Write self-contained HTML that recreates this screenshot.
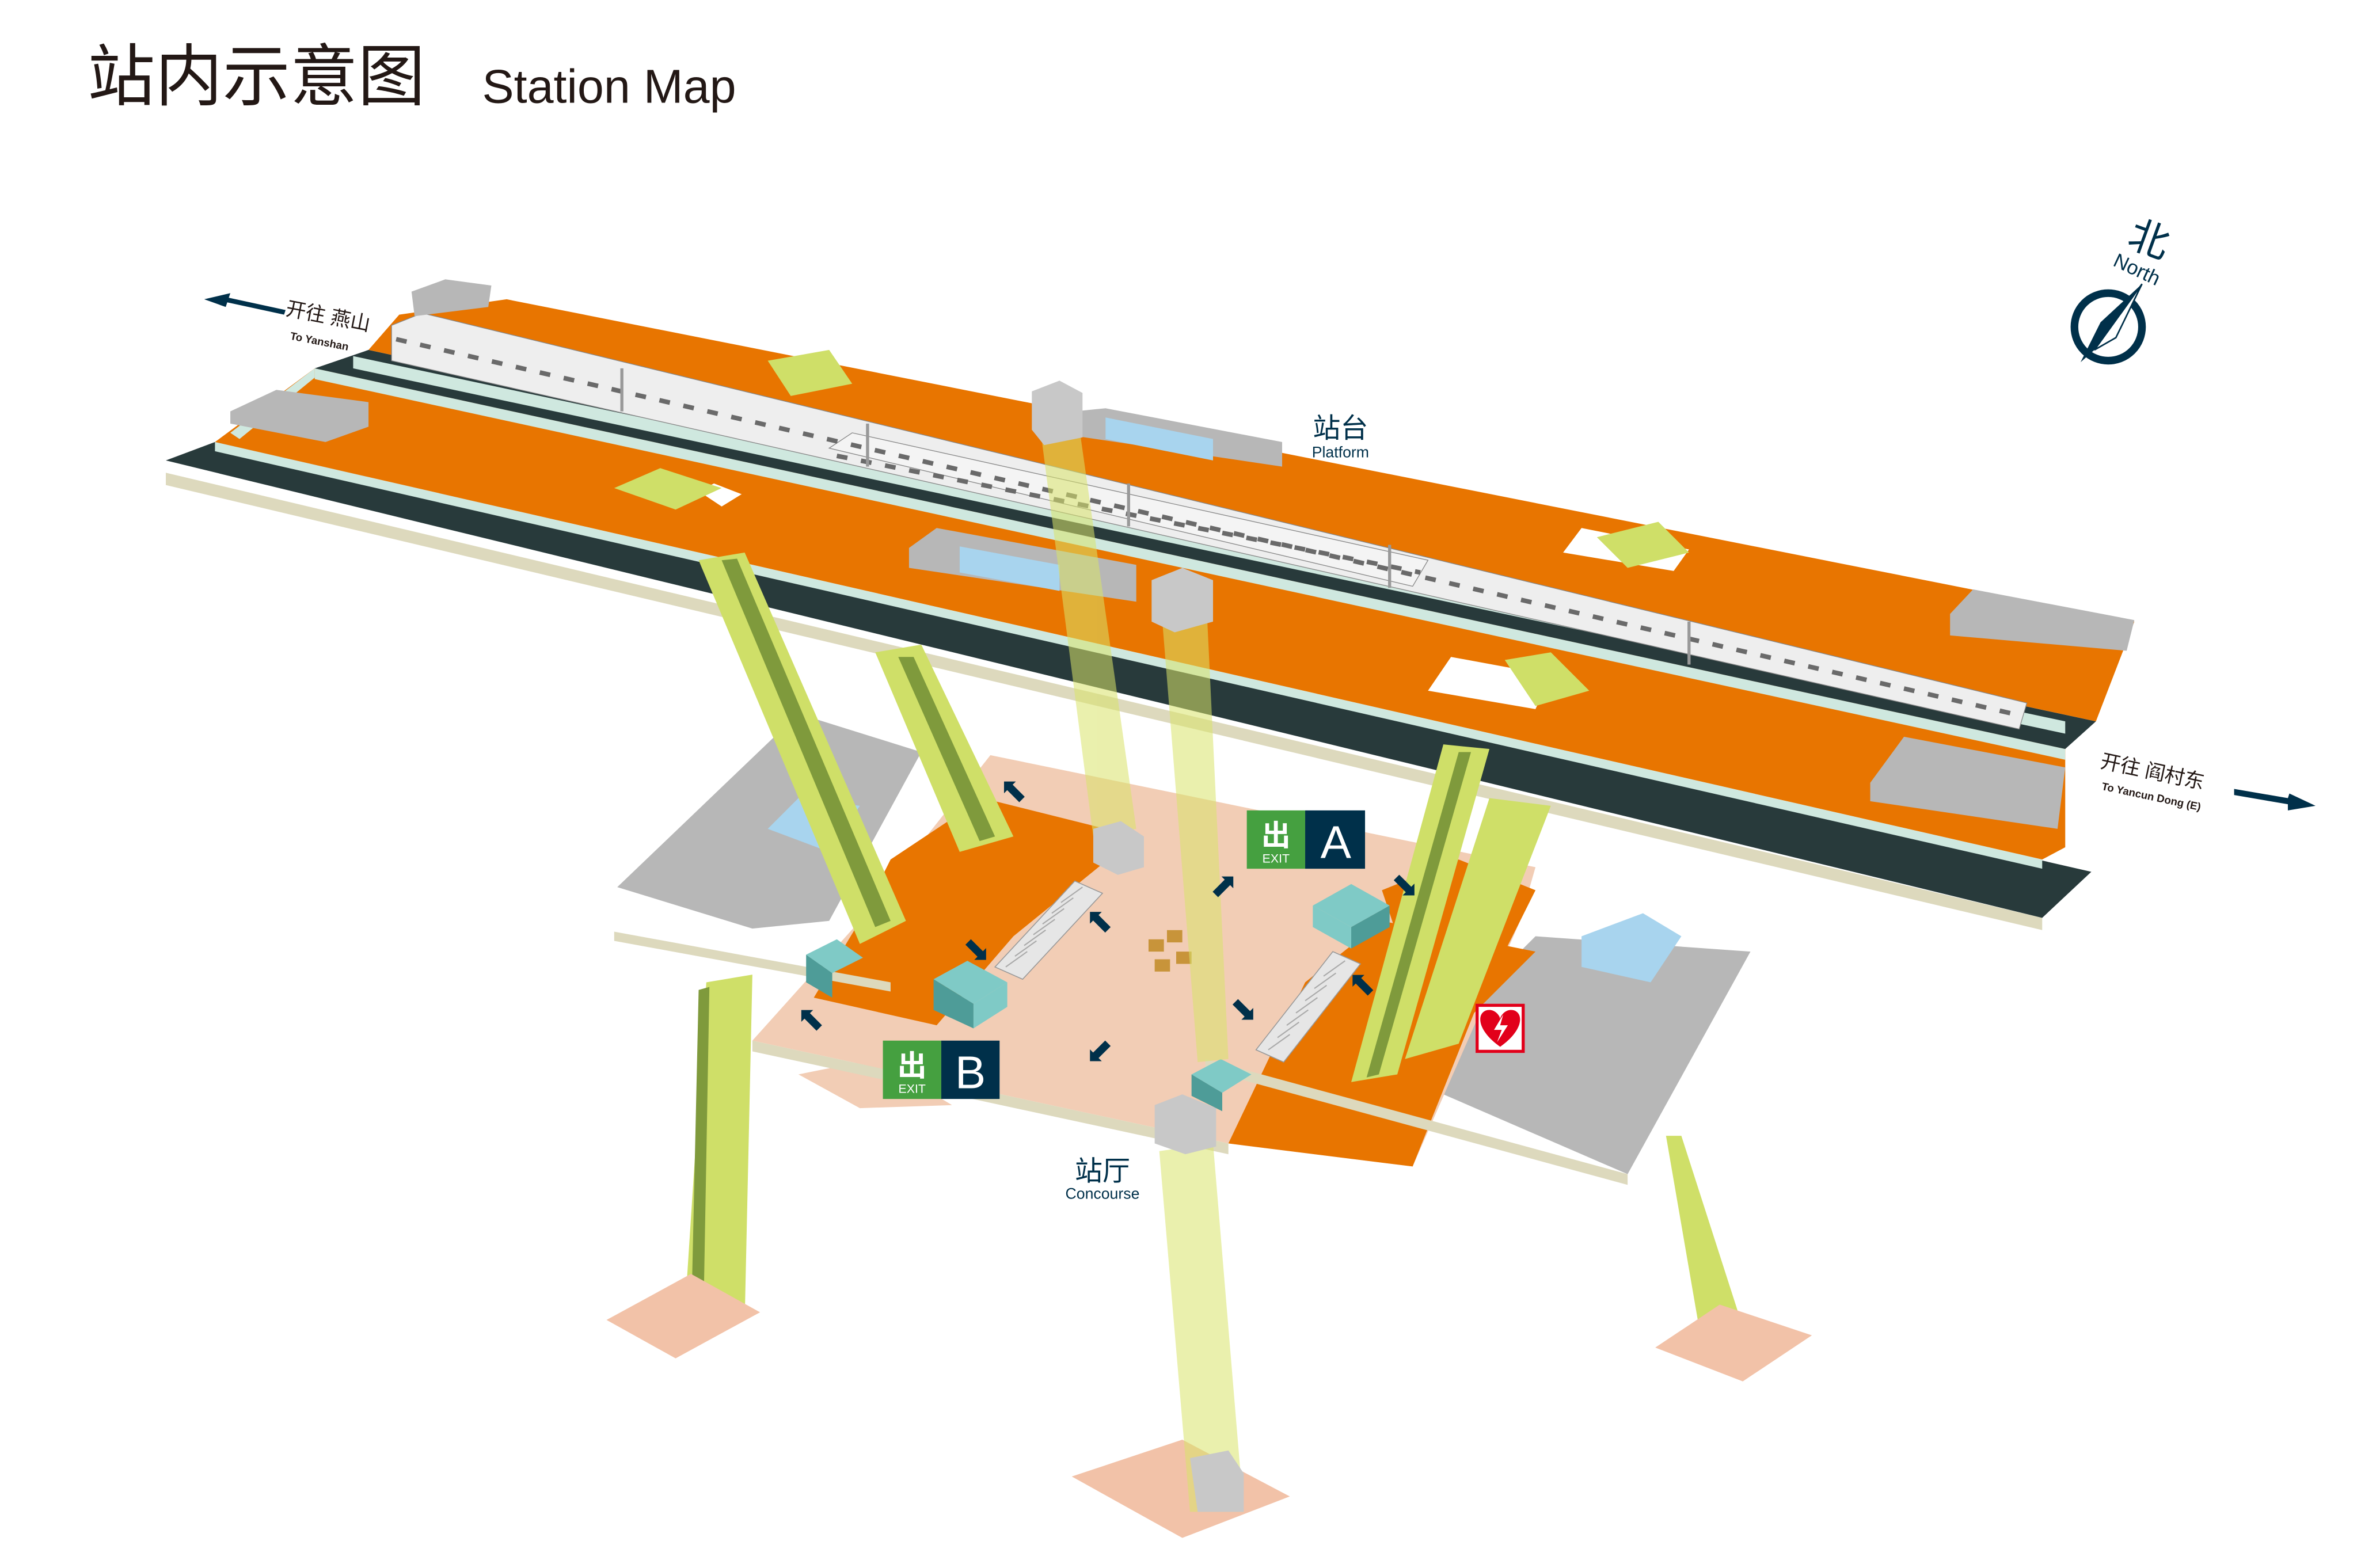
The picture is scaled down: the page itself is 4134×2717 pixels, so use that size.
<!DOCTYPE html>
<html><head><meta charset="utf-8"><style>
html,body{margin:0;padding:0;background:#fff}
svg{display:block}
</style></head><body>
<svg width="4134" height="2717" viewBox="0 0 1550 1019" preserveAspectRatio="none" xmlns="http://www.w3.org/2000/svg" font-family="'Liberation Sans','Noto Sans CJK SC',sans-serif">
<rect width="1550" height="1019" fill="#fff"/>
<text x="57" y="65" font-size="44" fill="#231815">站内示意图</text>
<text x="314" y="67" font-size="31" fill="#231815">Station Map</text>

<!-- concourse gray side areas -->
<polygon points="402,578 520,465 600,490 540,600 490,605" fill="#b7b7b7"/>
<polygon points="500,540 520,520 560,525 540,555" fill="#a8d4ee"/>
<polygon points="910,700 1000,610 1140,620 1060,765" fill="#b7b7b7"/>
<polygon points="1030,610 1070,595 1095,610 1075,640 1030,630" fill="#a8d4ee"/>
<!-- concourse pink floor -->
<polygon points="645,492 1000,565 990,600 920,760 800,745 490,678 560,600" fill="#f2cdb5"/>
<!-- orange areas -->
<polygon points="580,560 640,520 740,545 660,610 610,668 530,650 560,600" fill="#e87500"/>
<polygon points="800,745 850,640 900,600 1000,620 960,660 920,760" fill="#e87500"/>
<polygon points="900,580 950,560 1000,580 980,620 920,640" fill="#e87500"/>
<polygon points="520,700 570,690 620,720 560,722" fill="#f2cdb5"/>
<polygon points="785,690 1060,765 1060,772 785,697" fill="#ddd9bd"/>
<polygon points="490,678 800,745 800,752 490,685" fill="#ddd9bd"/>
<polygon points="400,607 580,640 580,646 400,613" fill="#ddd9bd"/>
<!-- AED -->
<rect x="962" y="655" width="30" height="30" fill="#fff" stroke="#e2001a" stroke-width="2"/>
<path d="M977 682 C960 670 962 658 970 658 C974 658 977 662 977 664 C977 662 980 658 984 658 C992 658 994 670 977 682Z" fill="#e2001a"/>
<path d="M979 661 L973 671 L978 671 L975 679 L982 668 L977 668 Z" fill="#fff"/>

<!-- ticket gates -->
<g fill="#e6e6e6" stroke="#999" stroke-width="0.6">
<polygon points="648,630 700,574 718,582 666,638"/>
<polygon points="818,684 868,620 886,628 836,692"/>
</g>
<g stroke="#aaa" stroke-width="0.8">
<path d="M655 630 l14 -10 M661 623 l14 -10 M667 616 l14 -10 M673 609 l14 -10 M679 602 l14 -10 M685 595 l14 -10 M691 588 l14 -10"/>
<path d="M826 684 l14 -10 M832 676 l14 -10 M838 668 l14 -10 M844 660 l14 -10 M850 652 l14 -10 M856 644 l14 -10 M862 636 l14 -10"/>
</g>
<g fill="#c8943a"><rect x="748" y="612" width="10" height="8"/><rect x="760" y="606" width="10" height="8"/><rect x="752" y="625" width="10" height="8"/><rect x="766" y="620" width="10" height="8"/></g>
<!-- teal boxes -->
<g><polygon points="608,638 630,626 656,640 634,654" fill="#7fcac6"/><polygon points="608,638 634,654 634,670 608,658" fill="#4e9c98"/><polygon points="634,654 656,640 656,656 634,670" fill="#7fcac6"/>
<polygon points="855,590 880,576 905,590 880,604" fill="#7fcac6"/><polygon points="855,590 880,604 880,618 855,604" fill="#7fcac6"/><polygon points="880,604 905,590 905,604 880,618" fill="#4e9c98"/>
<polygon points="525,622 545,612 562,624 542,634" fill="#7fcac6"/><polygon points="525,622 542,634 542,650 525,640" fill="#4e9c98"/>
<polygon points="776,700 795,690 815,700 796,712" fill="#7fcac6"/><polygon points="776,700 796,712 796,724 776,714" fill="#4e9c98"/></g>

<!-- platform level -->
<polygon points="108,308 1330,598 1330,606 108,316" fill="#ddd9bd"/>
<polygon points="108,300 140,288 1362,568 1330,598" fill="#283a3b"/>
<polygon points="140,288 205,240 1345,488 1345,552 1330,560" fill="#e87500"/>
<polygon points="150,282 205,240 205,246 156,286" fill="#cfe8df"/>
<polygon points="205,240 1345,488 1345,495 205,247" fill="#cfe8df"/>
<polygon points="140,288 1330,560 1330,566 140,294" fill="#cfe8df"/>
<!-- tracks & trains -->
<polygon points="205,240 240,228 1365,470 1345,488" fill="#283a3b"/>
<polygon points="240,228 260,205 330,195 1390,405 1365,470" fill="#e87500"/>
<polygon points="230,232 1345,470 1345,478 230,240" fill="#cfe8df"/>
<polygon points="255,212 275,204 1320,458 1315,475 255,235" fill="#eeeeee" stroke="#888" stroke-width="0.5"/>
<polygon points="540,292 555,282 930,365 920,382" fill="#f4f4f4" stroke="#888" stroke-width="0.5"/>
<line x1="258" y1="221" x2="1315" y2="466" stroke="#6a6a6a" stroke-width="3" stroke-dasharray="7 9"/>
<line x1="545" y1="297" x2="925" y2="373" stroke="#6a6a6a" stroke-width="3" stroke-dasharray="7 9"/>
<g stroke="#999" stroke-width="2"><line x1="405" y1="240" x2="405" y2="268"/><line x1="565" y1="276" x2="565" y2="304"/><line x1="735" y1="315" x2="735" y2="343"/><line x1="905" y1="355" x2="905" y2="383"/><line x1="1100" y1="405" x2="1100" y2="433"/></g>
<!-- platform gray boxes -->
<polygon points="268,190 290,182 320,186 318,200 270,206" fill="#b7b7b7"/>
<polygon points="150,268 180,254 240,262 240,278 212,288 150,276" fill="#b7b7b7"/>
<polygon points="700,268 720,266 835,288 835,304 700,284" fill="#b7b7b7"/>
<polygon points="720,272 790,286 790,300 720,286" fill="#a8d4ee"/>
<polygon points="592,357 610,344 740,368 740,392 592,370" fill="#b7b7b7"/>
<polygon points="625,356 690,368 690,385 625,373" fill="#a8d4ee"/>
<polygon points="1270,400 1285,384 1390,404 1385,424 1270,414" fill="#b7b7b7"/>
<polygon points="1218,510 1240,480 1345,500 1340,540 1218,522" fill="#b7b7b7"/>
<!-- white cut-outs on platforms -->
<polygon points="930,450 945,428 1010,440 1000,462" fill="#fff"/>
<polygon points="1018,360 1030,344 1100,358 1090,372" fill="#fff"/>
<polygon points="455,320 465,315 483,322 470,330" fill="#fff"/>

<!-- escalator shafts (green) -->
<g fill="#cfdf68">
<polygon points="455,365 485,360 590,600 560,615"/>
<polygon points="570,425 600,420 660,545 625,555"/>
<polygon points="940,485 970,488 910,700 880,705"/>
<polygon points="970,520 1010,525 950,680 915,690"/>
<polygon points="460,640 490,635 485,860 445,870"/>
<polygon points="1085,740 1095,740 1140,880 1110,885"/>
<polygon points="400,318 430,305 470,318 440,332"/>
<polygon points="500,235 540,228 555,250 515,258"/>
<polygon points="1040,350 1080,340 1100,360 1060,370"/>
<polygon points="980,430 1010,425 1035,450 1000,460"/>
</g>
<g fill="#7f9a3c">
<polygon points="470,365 480,364 580,600 570,604"/>
<polygon points="585,428 595,428 648,545 638,548"/>
<polygon points="455,645 462,643 458,865 450,867"/>
<polygon points="950,490 958,490 898,700 890,702"/>
</g>
<!-- foot pads -->
<polygon points="395,860 450,830 495,855 440,885" fill="#f2c2a8"/>
<polygon points="698,962 770,938 840,975 770,1002" fill="#f2c2a8"/>
<polygon points="1078,878 1120,850 1180,870 1135,900" fill="#f2c2a8"/>
<!-- transparent elevator shafts -->
<g fill="#d9e36a" opacity="0.55">
<polygon points="675,260 700,258 740,540 712,545"/>
<polygon points="755,380 785,378 800,690 780,692"/>
<polygon points="755,750 790,745 810,985 775,985"/>
</g>
<g fill="#c8c8c8">
<polygon points="672,255 690,248 705,256 705,285 680,290 672,280"/>
<polygon points="750,378 770,370 790,378 790,405 765,412 750,405"/>
<polygon points="712,540 730,535 745,545 745,565 728,570 712,562"/>
<polygon points="752,720 770,713 792,722 792,747 772,752 752,745"/>
<polygon points="775,950 800,945 810,960 810,985 780,985"/>
</g>

<!-- arrows -->
<g fill="#00304a" font-size="22" text-anchor="middle">
<text x="660" y="522">⬉</text>
<text x="636" y="626">⬊</text>
<text x="716" y="607">⬉</text>
<text x="797" y="584">⬈</text>
<text x="915" y="584">⬊</text>
<text x="810" y="665">⬊</text>
<text x="887" y="648">⬉</text>
<text x="716" y="692">⬋</text>
<text x="528" y="671">⬉</text>
</g>

<!-- exit signs -->
<rect x="812" y="528" width="38" height="38" fill="#45a040"/>
<rect x="850" y="528" width="39" height="38" fill="#00304a"/>
<text x="831" y="551" font-size="19" fill="#fff" text-anchor="middle" font-weight="bold">出</text>
<text x="831" y="562" font-size="8" fill="#fff" text-anchor="middle">EXIT</text>
<text x="870" y="559" font-size="30" fill="#fff" text-anchor="middle">A</text>
<rect x="575" y="678" width="38" height="38" fill="#45a040"/>
<rect x="613" y="678" width="38" height="38" fill="#00304a"/>
<text x="594" y="701" font-size="19" fill="#fff" text-anchor="middle" font-weight="bold">出</text>
<text x="594" y="712" font-size="8" fill="#fff" text-anchor="middle">EXIT</text>
<text x="632" y="709" font-size="30" fill="#fff" text-anchor="middle">B</text>

<!-- labels -->
<text x="873" y="285" font-size="18" fill="#00304a" text-anchor="middle">站台</text>
<text x="873" y="298" font-size="10" fill="#00304a" text-anchor="middle">Platform</text>
<text x="718" y="769" font-size="18" fill="#00304a" text-anchor="middle">站厅</text>
<text x="718" y="781" font-size="10" fill="#00304a" text-anchor="middle">Concourse</text>
<g transform="rotate(11 185 203)"><text x="186" y="205" font-size="13" fill="#231815">开往 燕山</text><text x="192" y="220" font-size="7" fill="#231815" font-weight="bold">To Yanshan</text></g>
<polygon points="133,195 150,191 149,194 186,202 185,205 148,197 147,200" fill="#00304a"/>
<g transform="rotate(12 1368 497)"><text x="1368" y="500" font-size="13" fill="#231815">开往 阎村东</text><text x="1372" y="514" font-size="7" fill="#231815" font-weight="bold">To Yancun Dong (E)</text></g>
<polygon points="1455,514 1490,520 1491,517 1508,525 1490,528 1490,524 1455,518" fill="#00304a"/>

<!-- compass -->
<circle cx="1373" cy="213" r="22" fill="none" stroke="#00304a" stroke-width="5"/>
<polygon points="1395,185 1364,228 1355,236 1368,210" fill="#00304a"/>
<polygon points="1395,185 1378,220 1364,228" fill="#fff" stroke="#00304a" stroke-width="1"/>
<g transform="rotate(20 1400 155)"><text x="1400" y="165" font-size="26" fill="#00304a" text-anchor="middle">北</text></g>
<g transform="rotate(25 1392 175)"><text x="1392" y="180" font-size="13" fill="#00304a" text-anchor="middle">North</text></g>
</svg>
</body></html>
